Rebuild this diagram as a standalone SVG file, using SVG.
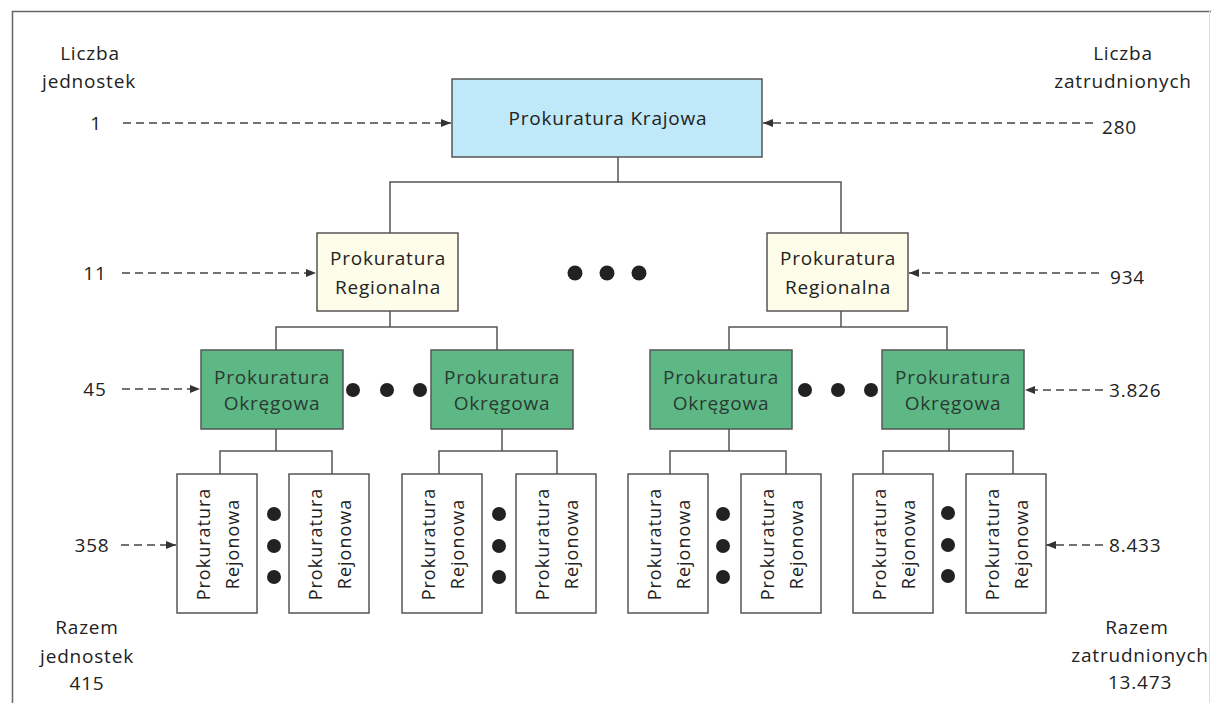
<svg xmlns="http://www.w3.org/2000/svg" width="1211" height="703" viewBox="0 0 1211 703">
<style>
text{font-family:"Open Sans","Liberation Sans",sans-serif;fill:#222;}
.lbl{font-size:19px;letter-spacing:0.8px;}
.bt{font-size:19px;letter-spacing:0.8px;text-anchor:middle;}
.rt{font-size:18px;letter-spacing:1px;text-anchor:middle;}
.ok{fill:#2a3a30;}
.box{stroke:#555;stroke-width:1.5;}
.kraj{fill:#bfe8f9;}
.reg{fill:#fdfde9;}
.okr{fill:#5db886;}
.rej{fill:#fff;}
.con{fill:none;stroke:#555;stroke-width:1.5;}
.dash{fill:none;stroke:#444;stroke-width:1.5;stroke-dasharray:8 5;marker-end:url(#ah);}
.dot{fill:#222;}
.m{text-anchor:middle;}
</style>
<defs>
<marker id="ah" viewBox="0 0 10 8" refX="10" refY="4" markerWidth="10" markerHeight="8" markerUnits="userSpaceOnUse" orient="auto">
<path d="M0,0 L10,4 L0,8 Z" fill="#333"/>
</marker>
</defs>
<rect width="1211" height="703" fill="#fff"/>
<path d="M12.5,703 V11.5 H1211" fill="none" stroke="#666" stroke-width="1.5"/>
<line x1="1209.5" y1="11" x2="1209.5" y2="703" stroke="#ddd" stroke-width="1"/>

<g id="connectors">
<path class="con" d="M618,157 V182 M390,233 V182 H841 V233"/>
<path class="con" d="M390,311 V327 M276,350 V327 H497 V350"/>
<path class="con" d="M841,311 V327 M729,350 V327 H947 V350"/>
<path class="con" d="M276,429 V451 M220,474 V451 H332 V474"/>
<path class="con" d="M502,429 V451 M439,474 V451 H557 V474"/>
<path class="con" d="M729,429 V451 M670,474 V451 H786 V474"/>
<path class="con" d="M949,429 V451 M883,474 V451 H1013 V474"/>
<line class="dash" x1="123" y1="123" x2="451" y2="123"/>
<line class="dash" x1="1093" y1="123" x2="763" y2="123"/>
<line class="dash" x1="122" y1="273" x2="316" y2="273"/>
<line class="dash" x1="1099" y1="273" x2="909" y2="273"/>
<line class="dash" x1="122" y1="389" x2="200" y2="389"/>
<line class="dash" x1="1103" y1="390" x2="1025" y2="390"/>
<line class="dash" x1="121" y1="545" x2="176" y2="545"/>
<line class="dash" x1="1103" y1="545" x2="1046" y2="545"/>
</g>

<g id="labels">
<text class="lbl m" x="90" y="60">Liczba</text>
<text class="lbl m" x="89" y="88">jednostek</text>
<text class="lbl m" x="1123" y="60">Liczba</text>
<text class="lbl m" x="1123" y="88">zatrudnionych</text>
<text class="lbl m" x="96" y="130">1</text>
<text class="lbl" x="1102" y="134">280</text>
<text class="lbl m" x="95" y="280">11</text>
<text class="lbl" x="1110" y="284">934</text>
<text class="lbl m" x="95" y="396">45</text>
<text class="lbl" x="1109" y="397">3.826</text>
<text class="lbl m" x="92" y="552">358</text>
<text class="lbl" x="1109" y="552">8.433</text>
<text class="lbl m" x="87" y="634">Razem</text>
<text class="lbl m" x="87" y="663">jednostek</text>
<text class="lbl m" x="87" y="690">415</text>
<text class="lbl m" x="1137" y="634">Razem</text>
<text class="lbl m" x="1140" y="662">zatrudnionych</text>
<text class="lbl m" x="1140" y="689">13.473</text>
</g>

<g id="krajowa">
<rect class="box kraj" x="452" y="79" width="310" height="78"/>
<text class="bt" x="608" y="125">Prokuratura Krajowa</text>
</g>

<g id="regionalna-1">
<rect class="box reg" x="317" y="233" width="141" height="78"/>
<text class="bt" x="388" y="265">Prokuratura</text>
<text class="bt" x="388" y="294">Regionalna</text>
</g>
<g id="regionalna-2">
<rect class="box reg" x="767" y="233" width="141" height="78"/>
<text class="bt" x="838" y="265">Prokuratura</text>
<text class="bt" x="838" y="294">Regionalna</text>
</g>
<g id="dots-regionalna">
<circle class="dot" cx="575" cy="273" r="7.5"/>
<circle class="dot" cx="607" cy="273" r="7.5"/>
<circle class="dot" cx="639" cy="273" r="7.5"/>
</g>

<g id="okregowa-1">
<rect class="box okr" x="201" y="350" width="142" height="79"/>
<text class="bt ok" x="272" y="384">Prokuratura</text>
<text class="bt ok" x="272" y="410">Okręgowa</text>
</g>
<g id="okregowa-2">
<rect class="box okr" x="431" y="350" width="142" height="79"/>
<text class="bt ok" x="502" y="384">Prokuratura</text>
<text class="bt ok" x="502" y="410">Okręgowa</text>
</g>
<g id="okregowa-3">
<rect class="box okr" x="650" y="350" width="142" height="79"/>
<text class="bt ok" x="721" y="384">Prokuratura</text>
<text class="bt ok" x="721" y="410">Okręgowa</text>
</g>
<g id="okregowa-4">
<rect class="box okr" x="882" y="350" width="142" height="79"/>
<text class="bt ok" x="953" y="384">Prokuratura</text>
<text class="bt ok" x="953" y="410">Okręgowa</text>
</g>
<g id="dots-okregowa">
<circle class="dot" cx="353" cy="390" r="7"/>
<circle class="dot" cx="387" cy="390" r="7"/>
<circle class="dot" cx="420" cy="390" r="7"/>
<circle class="dot" cx="805" cy="390" r="7"/>
<circle class="dot" cx="838" cy="390" r="7"/>
<circle class="dot" cx="871" cy="390" r="7"/>
</g>

<g id="rejonowa-1">
<rect class="box rej" x="177" y="474" width="80" height="139"/>
<text class="rt" transform="translate(210,544) rotate(-90)">Prokuratura</text>
<text class="rt" transform="translate(239,544) rotate(-90)">Rejonowa</text>
</g>
<g id="rejonowa-2">
<rect class="box rej" x="289" y="474" width="80" height="139"/>
<text class="rt" transform="translate(322,544) rotate(-90)">Prokuratura</text>
<text class="rt" transform="translate(351,544) rotate(-90)">Rejonowa</text>
</g>
<g id="rejonowa-3">
<rect class="box rej" x="402" y="474" width="80" height="139"/>
<text class="rt" transform="translate(435,544) rotate(-90)">Prokuratura</text>
<text class="rt" transform="translate(464,544) rotate(-90)">Rejonowa</text>
</g>
<g id="rejonowa-4">
<rect class="box rej" x="516" y="474" width="80" height="139"/>
<text class="rt" transform="translate(549,544) rotate(-90)">Prokuratura</text>
<text class="rt" transform="translate(578,544) rotate(-90)">Rejonowa</text>
</g>
<g id="rejonowa-5">
<rect class="box rej" x="628" y="474" width="80" height="139"/>
<text class="rt" transform="translate(661,544) rotate(-90)">Prokuratura</text>
<text class="rt" transform="translate(690,544) rotate(-90)">Rejonowa</text>
</g>
<g id="rejonowa-6">
<rect class="box rej" x="741" y="474" width="80" height="139"/>
<text class="rt" transform="translate(774,544) rotate(-90)">Prokuratura</text>
<text class="rt" transform="translate(803,544) rotate(-90)">Rejonowa</text>
</g>
<g id="rejonowa-7">
<rect class="box rej" x="853" y="474" width="80" height="139"/>
<text class="rt" transform="translate(886,544) rotate(-90)">Prokuratura</text>
<text class="rt" transform="translate(915,544) rotate(-90)">Rejonowa</text>
</g>
<g id="rejonowa-8">
<rect class="box rej" x="966" y="474" width="80" height="139"/>
<text class="rt" transform="translate(999,544) rotate(-90)">Prokuratura</text>
<text class="rt" transform="translate(1028,544) rotate(-90)">Rejonowa</text>
</g>
<g id="dots-rejonowa">
<circle class="dot" cx="274" cy="514" r="7"/>
<circle class="dot" cx="274" cy="546" r="7"/>
<circle class="dot" cx="274" cy="577" r="7"/>
<circle class="dot" cx="499" cy="514" r="7"/>
<circle class="dot" cx="499" cy="546" r="7"/>
<circle class="dot" cx="499" cy="577" r="7"/>
<circle class="dot" cx="723" cy="514" r="7"/>
<circle class="dot" cx="723" cy="546" r="7"/>
<circle class="dot" cx="723" cy="577" r="7"/>
<circle class="dot" cx="948" cy="513" r="7"/>
<circle class="dot" cx="948" cy="545" r="7"/>
<circle class="dot" cx="948" cy="576" r="7"/>
</g>
</svg>
